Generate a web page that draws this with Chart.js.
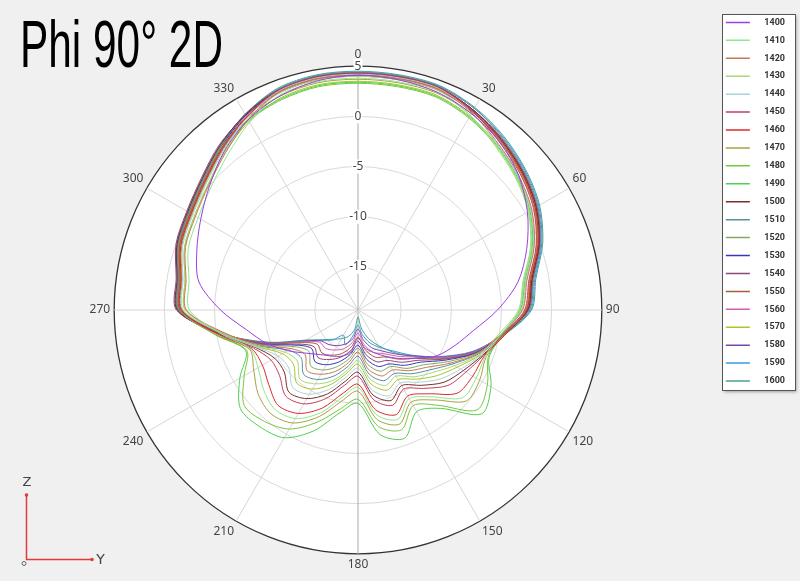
<!DOCTYPE html>
<html>
<head>
<meta charset="utf-8">
<script src="https://cdn.jsdelivr.net/npm/chart.js@4.4.1/dist/chart.umd.min.js"></script>
<style>
  body { margin: 0; background: #f0f0f0; }
  #wrap { position: relative; width: 800px; height: 581px; }
  #title {
    position: absolute; left: 20px; top: 11px;
    font: 66px/66px "Liberation Sans", Arial, sans-serif;
    transform: scaleX(0.642); transform-origin: 0 0;
    white-space: nowrap; color: #000;
  }
</style>
</head>
<body>
<div id="wrap">
  <canvas id="polar" width="800" height="581"></canvas>
  <div id="title">Phi 90° 2D</div>
</div>
<script>
// theta angles (deg), one value every 10 degrees
const angles = [0, 10, 20, 30, 40, 50, 60, 70, 80, 90, 100, 110, 120, 130, 140, 150, 160, 170,
                180, 190, 200, 210, 220, 230, 240, 250, 260, 270, 280, 290, 300, 310, 320, 330, 340, 350];
const freqs = ["1400", "1410", "1420", "1430", "1440", "1450", "1460", "1470", "1480", "1490", "1500",
               "1510", "1520", "1530", "1540", "1550", "1560", "1570", "1580", "1590", "1600"];
const rTicks = [-15, -10, -5, 0, 5];

// gain (dB) per frequency
const s1400 = [4.1, 4.0, 3.8, 3.3, 2.6, 1.6, 0.2, -1.4, -3.1, -5.4, -7.6, -9.0, -10.2, -11.8, -13.0, -14.0, -14.8, -15.5, -16.5, -15.0, -14.4, -14.0, -13.5, -12.6, -11.2, -9.6, -8.0, -5.6, -3.2, -2.2, -1.2, 0.0, 1.4, 2.6, 3.4, 3.9];
const s1410 = [3.8, 3.8, 3.8, 3.1, 2.1, 1.3, 0.4, -0.9, -2.5, -3.2, -4.9, -5.8, -5.7, -5.7, -8.0, -9.1, -7.7, -8.7, -11.6, -10.5, -8.4, -6.8, -6.4, -7.0, -7.8, -7.9, -5.5, -2.5, -2.2, -1.3, -0.9, -0.2, 0.9, 2.3, 3.5, 3.8];
const s1420 = [4.1, 4.1, 4.1, 3.4, 2.4, 1.6, 0.7, -0.6, -2.2, -2.9, -4.9, -6.6, -8.7, -10.4, -11.4, -12.4, -12.3, -13.3, -15.1, -14.0, -12.8, -11.9, -11.4, -12.4, -11.6, -9.0, -5.9, -2.2, -1.9, -1.0, -0.6, 0.1, 1.2, 2.6, 3.8, 4.1];
const s1430 = [4.0, 4.0, 4.0, 3.1, 2.0, 1.2, 0.3, -1.0, -2.6, -3.3, -5.1, -6.4, -8.2, -9.6, -10.6, -11.7, -11.3, -12.3, -14.3, -13.2, -11.8, -10.8, -10.3, -11.4, -10.9, -8.7, -5.8, -2.1, -1.8, -0.9, -0.5, 0.2, 1.3, 2.6, 3.7, 4.0];
const s1440 = [4.2, 4.2, 4.2, 3.4, 2.3, 1.5, 0.6, -0.7, -2.3, -3.0, -4.9, -6.2, -7.5, -8.6, -9.9, -10.9, -10.2, -11.2, -13.5, -12.5, -10.9, -9.6, -9.2, -10.3, -10.1, -8.5, -5.6, -1.9, -1.6, -0.7, -0.3, 0.4, 1.5, 2.8, 3.9, 4.2];
const s1450 = [4.3, 4.3, 4.3, 3.6, 2.6, 1.8, 0.9, -0.4, -2.0, -2.7, -4.7, -6.0, -6.9, -7.6, -9.1, -10.2, -9.2, -10.2, -12.7, -11.7, -9.9, -8.5, -8.1, -9.1, -9.3, -8.2, -5.5, -1.6, -1.3, -0.4, 0.0, 0.7, 1.8, 3.0, 4.0, 4.3];
const s1460 = [4.2, 4.2, 4.2, 3.6, 2.8, 2.0, 1.1, -0.2, -1.8, -2.5, -4.5, -5.9, -6.1, -6.4, -8.4, -9.4, -8.2, -9.2, -11.9, -10.9, -8.9, -7.4, -6.9, -7.7, -8.3, -8.0, -5.2, -1.7, -1.4, -0.5, -0.1, 0.6, 1.7, 2.9, 3.9, 4.2];
const s1470 = [3.7, 3.7, 3.7, 3.3, 2.7, 1.9, 1.0, -0.3, -1.9, -2.6, -4.6, -5.7, -5.3, -5.2, -7.6, -8.7, -7.2, -8.2, -11.2, -10.1, -8.0, -6.3, -5.8, -6.3, -7.3, -7.8, -5.0, -1.5, -1.2, -0.3, 0.1, 0.8, 1.9, 2.8, 3.4, 3.7];
const s1480 = [3.3, 3.3, 3.3, 2.8, 2.1, 1.3, 0.4, -0.9, -2.5, -3.2, -4.8, -5.5, -4.4, -3.8, -6.9, -8.3, -6.6, -7.5, -10.4, -9.3, -7.4, -5.6, -4.8, -4.5, -6.2, -7.5, -5.0, -1.7, -1.4, -0.5, -0.1, 0.6, 1.7, 2.5, 3.0, 3.3];
const s1490 = [3.4, 3.4, 3.4, 2.9, 2.2, 1.4, 0.5, -0.8, -2.4, -3.1, -4.7, -5.4, -4.0, -3.2, -6.5, -7.6, -5.7, -6.7, -10.0, -8.9, -6.5, -4.6, -4.1, -4.0, -5.7, -7.4, -4.9, -1.6, -1.3, -0.4, 0.0, 0.7, 1.8, 2.6, 3.1, 3.4];
const s1500 = [4.3, 4.3, 4.3, 3.7, 2.9, 2.1, 1.2, -0.1, -1.7, -2.4, -4.6, -6.1, -7.2, -8.1, -9.5, -10.6, -9.7, -10.7, -13.1, -12.1, -10.4, -9.1, -8.6, -9.7, -9.7, -8.4, -5.3, -1.3, -1.0, -0.1, 0.3, 1.0, 2.1, 3.2, 4.0, 4.3];
const s1510 = [4.4, 4.4, 4.4, 3.9, 3.1, 2.3, 1.4, 0.1, -1.5, -2.2, -4.6, -6.5, -8.5, -10.0, -11.0, -12.0, -11.8, -12.8, -14.7, -13.6, -12.3, -11.3, -10.9, -11.9, -11.3, -8.8, -5.5, -1.4, -1.1, -0.2, 0.2, 0.9, 2.0, 3.2, 4.1, 4.4];
const s1520 = [4.2, 4.2, 4.2, 3.6, 2.8, 2.0, 1.1, -0.2, -1.8, -2.5, -4.8, -6.7, -9.0, -10.8, -11.7, -12.8, -12.8, -13.8, -15.5, -14.4, -13.3, -12.4, -12.0, -12.9, -12.0, -9.1, -5.7, -1.8, -1.5, -0.6, -0.2, 0.5, 1.6, 2.9, 3.9, 4.2];
const s1530 = [4.3, 4.3, 4.3, 3.7, 2.9, 2.1, 1.2, -0.1, -1.7, -2.4, -4.8, -6.8, -9.3, -11.2, -12.1, -13.1, -13.3, -14.3, -15.8, -14.8, -13.8, -13.0, -12.6, -13.3, -12.3, -9.2, -5.6, -1.5, -1.2, -0.3, 0.1, 0.8, 1.9, 3.1, 4.0, 4.3];
const s1540 = [4.1, 4.1, 4.1, 3.5, 2.7, 1.9, 1.0, -0.3, -1.9, -2.6, -4.9, -6.8, -9.5, -11.5, -12.5, -13.5, -13.8, -14.8, -16.2, -15.2, -14.3, -13.6, -13.1, -13.6, -12.5, -9.4, -5.5, -1.2, -0.9, 0.0, 0.4, 1.1, 2.2, 3.1, 3.8, 4.1];
const s1550 = [4.2, 4.2, 4.2, 3.7, 3.0, 2.2, 1.3, 0.0, -1.6, -2.3, -4.7, -6.9, -9.6, -11.8, -12.9, -13.9, -14.3, -15.3, -16.6, -15.6, -14.7, -14.1, -13.7, -14.0, -12.8, -9.5, -5.7, -1.7, -1.4, -0.5, -0.1, 0.6, 1.7, 2.9, 3.9, 4.2];
const s1560 = [4.0, 4.0, 4.0, 3.5, 2.8, 2.0, 1.1, -0.2, -1.8, -2.5, -4.9, -7.0, -9.8, -12.0, -13.3, -14.3, -14.8, -15.8, -17.0, -16.0, -15.2, -14.7, -14.3, -14.3, -13.0, -9.6, -5.7, -1.6, -1.3, -0.4, 0.0, 0.7, 1.8, 2.9, 3.7, 4.0];
const s1570 = [3.5, 3.5, 3.5, 3.0, 2.3, 1.5, 0.6, -0.7, -2.3, -3.0, -4.9, -6.3, -7.9, -9.1, -10.3, -11.3, -10.8, -11.8, -13.9, -12.9, -11.4, -10.2, -9.8, -10.9, -10.6, -8.6, -5.8, -2.1, -1.8, -0.9, -0.5, 0.2, 1.3, 2.4, 3.2, 3.5];
const s1580 = [4.2, 4.2, 4.2, 3.7, 3.0, 2.2, 1.3, 0.0, -1.6, -2.3, -4.8, -7.1, -9.9, -12.2, -13.6, -14.6, -15.3, -16.3, -17.4, -16.4, -15.7, -15.2, -14.8, -14.5, -13.1, -9.7, -5.6, -1.4, -1.1, -0.2, 0.2, 0.9, 2.0, 3.1, 3.9, 4.2];
const s1590 = [4.4, 4.4, 4.4, 3.9, 3.2, 2.4, 1.5, 0.2, -1.4, -2.1, -4.7, -7.2, -10.0, -12.3, -14.0, -15.0, -15.8, -16.8, -17.8, -16.8, -15.6, -16.4, -15.4, -14.6, -13.2, -9.8, -5.5, -1.3, -1.0, -0.1, 0.3, 1.0, 2.1, 3.2, 4.1, 4.4];
const s1600 = [4.5, 4.5, 4.5, 4.0, 3.3, 2.5, 1.6, 0.3, -1.3, -2.0, -4.6, -7.0, -9.8, -12.1, -13.8, -15.2, -16.3, -17.5, -18.6, -17.3, -16.5, -16.0, -15.5, -14.7, -13.3, -9.9, -5.6, -1.5, -1.2, -0.3, 0.1, 0.8, 1.9, 3.2, 4.2, 4.5];

const gains = [s1400, s1410, s1420, s1430, s1440, s1450, s1460, s1470, s1480, s1490, s1500,
               s1510, s1520, s1530, s1540, s1550, s1560, s1570, s1580, s1590, s1600];
const lineColors = ["#9b3fe0", "#8ee88e", "#c87850", "#a8d878", "#a8d4dc", "#c83c5a", "#e02828",
                    "#a8a040", "#78c83c", "#50d050", "#7c2c2c", "#5890a0", "#88a860", "#3838b8",
                    "#8c4878", "#a85c38", "#d060b0", "#a8c828", "#7848a8", "#3898e0", "#48a090"];

// white framed box with a soft shadow behind the legend
const legendFrame = {
    id: "legendFrame",
    beforeDraw(chart) {
        const lg = chart.legend;
        const ctx = chart.ctx;
        const x = lg.left + 5.5, y = lg.top + 5, w = 73, h = 376;
        ctx.save();
        ctx.shadowColor = "rgba(0,0,0,0.35)";
        ctx.shadowOffsetX = 2;
        ctx.shadowOffsetY = 2;
        ctx.shadowBlur = 3;
        ctx.fillStyle = "#fff";
        ctx.fillRect(x, y, w, h);
        ctx.restore();
        ctx.save();
        ctx.strokeStyle = "#555";
        ctx.lineWidth = 1;
        ctx.strokeRect(Math.round(x) + 0.5, Math.round(y) + 0.5, w, h);
        ctx.restore();
    }
};

// little Z / Y orientation triad in the lower left corner
const axisTriad = {
    id: "axisTriad",
    afterDraw(chart) {
        const ctx = chart.ctx;
        ctx.save();
        ctx.strokeStyle = "#e03a3a";
        ctx.fillStyle = "#e03a3a";
        ctx.lineWidth = 1.5;
        ctx.beginPath();
        ctx.moveTo(26.5, 495);
        ctx.lineTo(26.5, 559.5);
        ctx.lineTo(92, 559.5);
        ctx.stroke();
        [[26.5, 495], [92, 559.5]].forEach(p => {
            ctx.beginPath();
            ctx.arc(p[0], p[1], 1.8, 0, Math.PI * 2);
            ctx.fill();
        });
        ctx.strokeStyle = "#666";
        ctx.lineWidth = 1;
        ctx.beginPath();
        ctx.arc(24, 563.5, 2, 0, Math.PI * 2);
        ctx.stroke();
        ctx.fillStyle = "#444";
        ctx.font = "13px 'DejaVu Sans', sans-serif";
        ctx.textAlign = "center";
        ctx.textBaseline = "middle";
        ctx.fillText("Z", 27, 482.5);
        ctx.font = "14px 'DejaVu Sans', sans-serif";
        ctx.fillText("Y", 100.5, 560.5);
        ctx.restore();
    }
};

new Chart(document.getElementById("polar"), {
    type: "radar",
    data: {
        labels: angles.map(String),
        datasets: freqs.map((f, i) => ({
            label: f,
            data: gains[i],
            borderColor: lineColors[i],
            backgroundColor: lineColors[i],
            borderWidth: 1,
            pointRadius: 0,
            fill: false,
            tension: 0.3
        }))
    },
    plugins: [legendFrame, axisTriad],
    options: {
        responsive: false,
        animation: false,
        layout: {
            padding: { top: 9, right: 15, bottom: 7.8, left: 0 }
        },
        plugins: {
            tooltip: { enabled: false },
            title: {
                // empty: only reserves the band the big heading sits in
                display: true,
                text: "",
                font: { size: 10, lineHeight: 1 },
                padding: { top: 0, bottom: 29.8 }
            },
            legend: {
                position: "right",
                align: "start",
                labels: {
                    boxWidth: 24,
                    boxHeight: 1.5,
                    padding: 8.93,
                    color: "#333",
                    textAlign: "right",
                    font: { family: "Roboto, sans-serif", size: 9, weight: "bold" },
                    generateLabels: chart => Chart.defaults.plugins.legend.labels.generateLabels(chart)
                        .map(item => Object.assign(item, { lineWidth: 0 }))
                }
            }
        },
        scales: {
            r: {
                min: -19.3,
                max: 5,
                startAngle: 0,
                backgroundColor: "#fff",
                grid: {
                    circular: true,
                    color: c => c.tick.value === 5 ? "#333" : "#dadada",
                    lineWidth: c => c.tick.value === 5 ? 1.3 : 1
                },
                angleLines: {
                    color: c => c.index % 3 !== 0 ? "transparent" : (c.index % 18 === 0 ? "#a8a8a8" : "#d6d6d6"),
                    lineWidth: 1
                },
                pointLabels: {
                    padding: -3,
                    color: "#444",
                    font: { family: "'Noto Sans', sans-serif", size: 12 },
                    callback: (label, i) => i % 3 === 0 ? label : ""
                },
                ticks: {
                    stepSize: 5,
                    color: "#444",
                    font: { family: "'Noto Sans', sans-serif", size: 12 },
                    backdropColor: "#fff",
                    backdropPadding: 1,
                    showLabelBackdrop: c => rTicks.includes(c.tick.value),
                    callback: v => rTicks.includes(v) ? String(v) : ""
                }
            }
        }
    }
});
</script>
</body>
</html>
